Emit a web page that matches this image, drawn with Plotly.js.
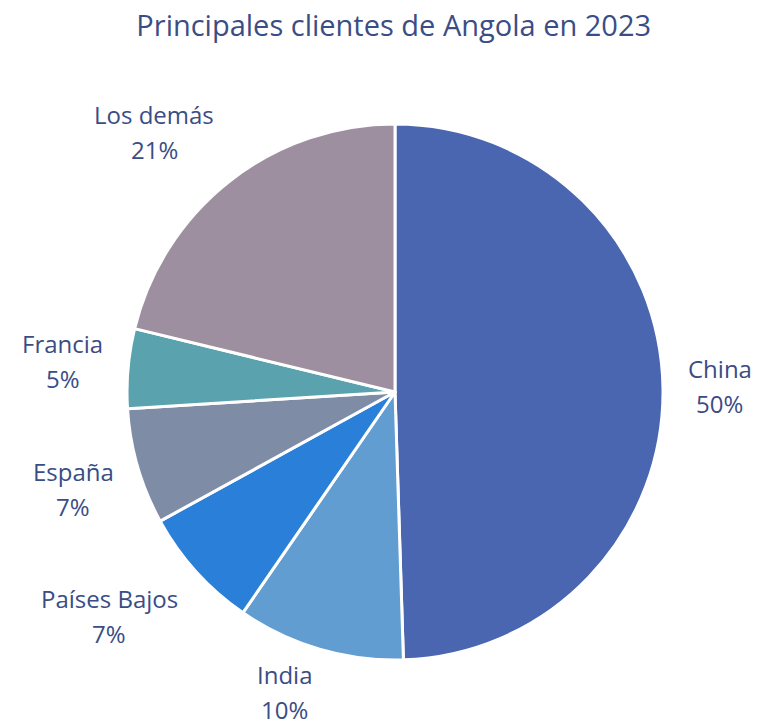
<!DOCTYPE html>
<html>
<head>
<meta charset="utf-8">
<script src="https://cdn.plot.ly/plotly-3.0.1.min.js"></script>
<style>
  html, body { margin: 0; padding: 0; background: #fff; }
  #chart { width: 766px; height: 725px; }
</style>
</head>
<body>
<div id="chart"></div>
<script>
// Principales clientes de Angola en 2023 (% de exportaciones)
const countries = ['China', 'India', 'Países Bajos', 'España', 'Francia', 'Los demás'];
const shares = [49.5, 10.1, 7.4, 7.0, 4.8, 21.2];
const sliceColors = ['#4a66b0', '#629dd1', '#2a7fd9', '#7f8ca6', '#5aa2ae', '#9d8f9f'];

const W = 766, H = 725;
const textColor = '#3a4d85';
const fontFamily = '"Open Sans", sans-serif';
const labelSize = 24;

// pie geometry (pixels) -> domain
const cx = 395, cy = 392, R = 268, labelR = 293;
const domain = {
    x: [(cx - R) / W, (cx + R) / W],
    y: [1 - (cy + R) / H, 1 - (cy - R) / H]
};

// labels sit outside, two lines spaced wide, like the original
const ctx = document.createElement('canvas').getContext('2d');
ctx.font = labelSize + 'px ' + fontFamily;
const total = shares.reduce((a, b) => a + b, 0);
const annotations = [];
let cum = 0;
shares.forEach((v, i) => {
    const mid = (cum + v / 2) / total * 2 * Math.PI;
    cum += v;
    const s = Math.sin(mid), c = -Math.cos(mid);
    const px = cx + labelR * s, py = cy + labelR * c;
    const pct = Math.round(v / total * 100) + '%';
    const w = Math.max(ctx.measureText(countries[i]).width, ctx.measureText(pct).width);
    const bx = s >= 0 ? px + w / 2 : px - w / 2;
    const k = Math.max(-1, Math.min(1, 2 * c));
    // keep the bottom label inside the picture
    const by = Math.min(py + k * (c < 0 ? 30 : 27), H - 33);
    [[countries[i], by - 17.5], [pct, by + 17.5]].forEach(([txt, y]) => {
        annotations.push({
            text: txt,
            x: bx / W, y: 1 - y / H,
            xref: 'paper', yref: 'paper',
            xanchor: 'center', yanchor: 'middle',
            showarrow: false,
            font: { family: fontFamily, size: labelSize, color: textColor }
        });
    });
});

const trace = {
    type: 'pie',
    labels: countries,
    values: shares,
    sort: false,
    direction: 'clockwise',
    rotation: 0,
    marker: { colors: sliceColors, line: { color: '#ffffff', width: 3 } },
    textinfo: 'none',
    domain: domain,
    hoverinfo: 'label+percent'
};

const layout = {
    width: W,
    height: H,
    margin: { l: 0, r: 0, t: 0, b: 0 },
    showlegend: false,
    paper_bgcolor: '#ffffff',
    annotations: annotations,
    title: {
        text: 'Principales clientes de Angola en 2023',
        font: { family: fontFamily, size: 29, color: textColor },
        x: 0.514,
        xanchor: 'center',
        y: 1 - 26 / H,
        yanchor: 'middle'
    }
};

Plotly.newPlot('chart', [trace], layout, { displayModeBar: false, staticPlot: true });
</script>
</body>
</html>
